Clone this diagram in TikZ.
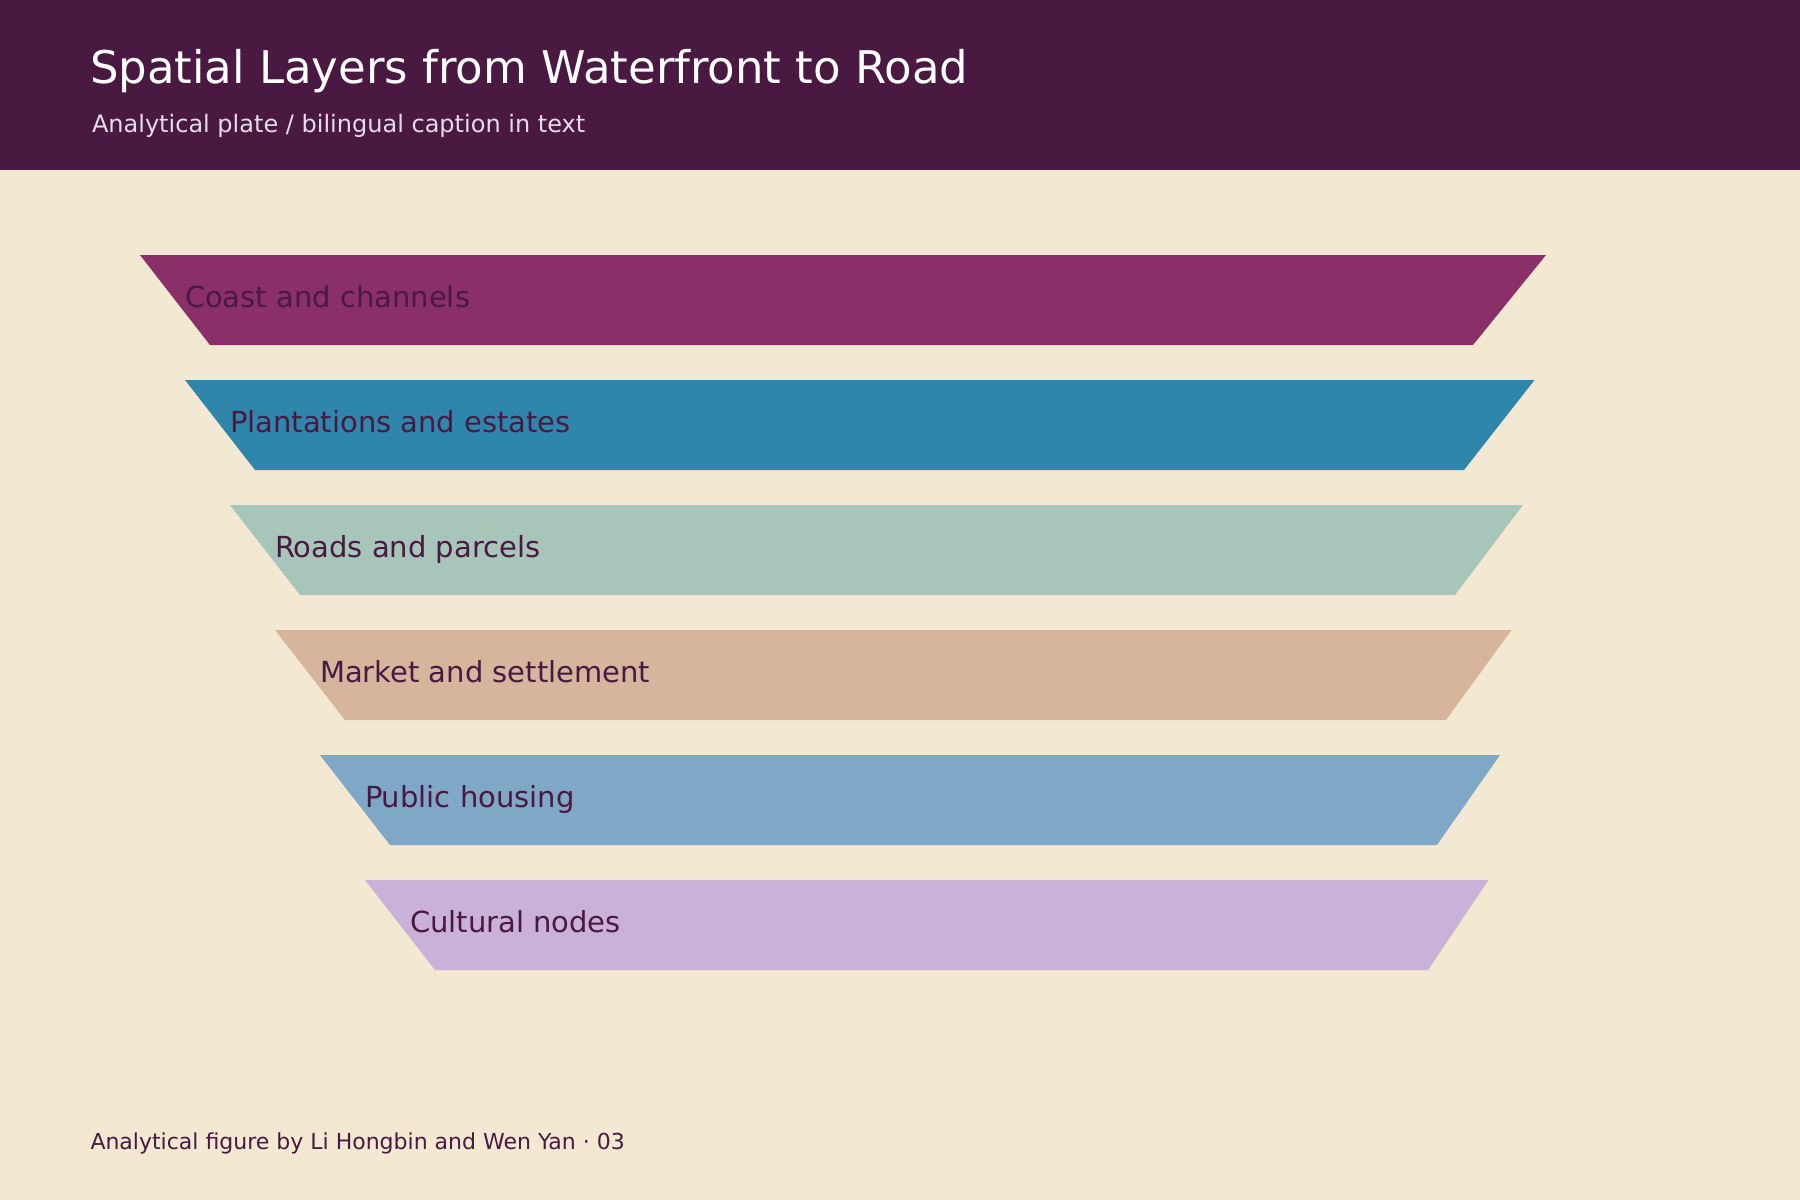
\documentclass[tikz,border=0pt]{standalone}
\usepackage{fontspec}
\setmainfont{DejaVu Sans}
\definecolor{plum}{HTML}{4A1942}
\definecolor{paper}{HTML}{F3E8D2}
\definecolor{subtxt}{HTML}{E4DCEC}
\definecolor{cA}{HTML}{8B2F68}
\definecolor{cB}{HTML}{2E86AB}
\definecolor{cC}{HTML}{A7C6B9}
\definecolor{cD}{HTML}{D7B49C}
\definecolor{cE}{HTML}{7FA7C6}
\definecolor{cF}{HTML}{C9B1D7}
\begin{document}
\begin{tikzpicture}[x=1pt,y=-1pt,
  txt/.style={anchor=base west,inner sep=0pt,outer sep=0pt},
  layerlabel/.style={txt,text=plum,font=\fontsize{29}{35}\selectfont}]
\useasboundingbox (0,0) rectangle (1800,1200);
\fill[paper] (0,0) rectangle (1800,1200);
\fill[plum] (0,0) rectangle (1800,170);
\node[txt,text=white,font=\fontsize{45}{54}\selectfont] (title) at (90,83.5) {Spatial Layers from Waterfront to Road};
\node[txt,text=subtxt,font=\fontsize{24}{29}\selectfont] (subtitle) at (92,132.7) {Analytical plate / bilingual caption in text};
\foreach \i/\c/\t in {0/cA/Coast and channels,1/cB/Plantations and estates,2/cC/Roads and parcels,3/cD/Market and settlement,4/cE/Public housing,5/cF/Cultural nodes}{
  \pgfmathsetmacro\yt{255+125*\i}
  \pgfmathsetmacro\yb{\yt+90}
  \pgfmathsetmacro\xtl{140+45*\i}
  \pgfmathsetmacro\xtr{1546-11.5*\i}
  \pgfmathsetmacro\xbl{210+45*\i}
  \pgfmathsetmacro\xbr{1473-9*\i}
  \fill[\c] (\xtl,\yt) -- (\xtr,\yt) -- (\xbr,\yb) -- (\xbl,\yb) -- cycle;
  \node[layerlabel] (layer\i) at (\xtl+45,\yt+52) {\t};
}
\node[txt,text=plum,font=\fontsize{22}{26}\selectfont] (footer) at (90.5,1149) {Analytical figure by Li Hongbin and Wen Yan · 03};
\end{tikzpicture}
\end{document}
